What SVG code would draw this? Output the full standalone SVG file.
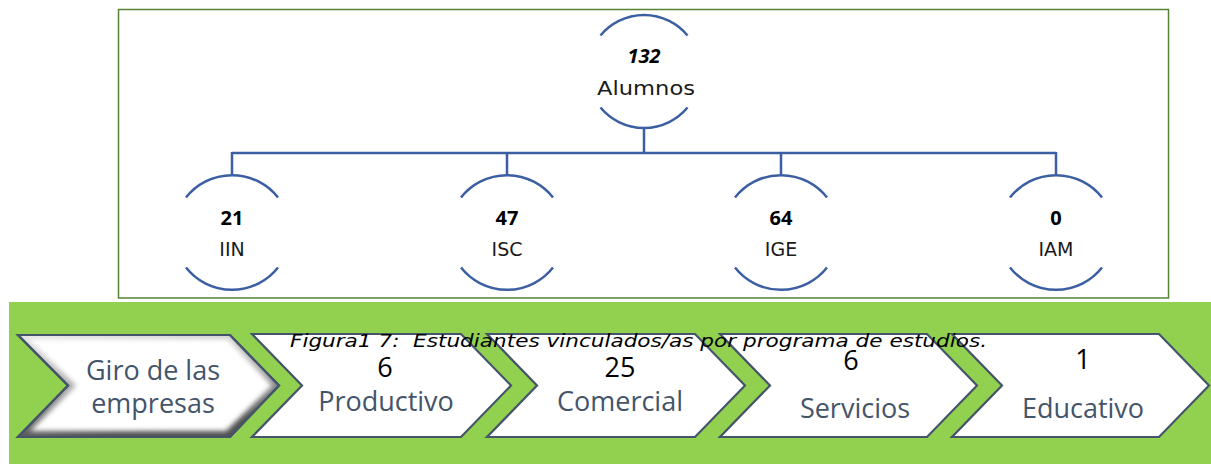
<svg xmlns="http://www.w3.org/2000/svg" width="1211" height="464" viewBox="0 0 1211 464">
<style>
.arc{fill:none;stroke:#3B5FA2;stroke-width:2.5}
.con{fill:none;stroke:#3B5FA2;stroke-width:2.5}
.num{font-family:"Noto Sans","DejaVu Sans",sans-serif;font-weight:bold;font-size:20px;fill:#000;text-anchor:middle}
.lbl{font-family:"DejaVu Sans","Noto Sans",sans-serif;font-size:19px;fill:#1a1a1a;text-anchor:middle}
.chev{fill:#fff;stroke:#44546A;stroke-width:2.2}
.cnum{font-family:"Open Sans","Noto Sans",sans-serif;font-size:27px;fill:#000;text-anchor:middle}
.ctxt{font-family:"Open Sans","Noto Sans",sans-serif;font-size:27px;fill:#44546A;text-anchor:middle}
</style>
<defs>
<linearGradient id="bev" x1="0" y1="0" x2="0.25" y2="1">
<stop offset="0" stop-color="#e6e6e6"/>
<stop offset="0.55" stop-color="#a8a8a8"/>
<stop offset="1" stop-color="#505050"/>
</linearGradient>
<filter id="blur" x="-10%" y="-10%" width="120%" height="120%"><feGaussianBlur stdDeviation="2.5"/></filter>
</defs>
<rect x="0" y="0" width="1211" height="464" fill="#fff"/>
<rect x="118.5" y="9.5" width="1050" height="288.5" fill="none" stroke="#548235" stroke-width="1.5"/>
<rect x="9" y="302" width="1202" height="162" fill="#92D050"/>

<g id="connectors">
<path class="con" d="M644 128 V153 M232 153 H1056 M232 152 V174 M507 152 V174 M781 152 V174 M1056 152 V174"/>
</g>

<g id="node-alumnos">
<path class="arc" d="M600.5 35.5 A56.5 56.5 0 0 1 687.5 35.5"/>
<path class="arc" d="M600.5 107.5 A56.5 56.5 0 0 0 687.5 107.5"/>
<text class="num" x="644" y="63" font-style="italic">132</text>
<text class="lbl" x="646" y="95" textLength="98" lengthAdjust="spacingAndGlyphs">Alumnos</text>
</g>

<g id="node-iin">
<path class="arc" d="M186 197.5 A58.5 58.5 0 0 1 278 197.5"/>
<path class="arc" d="M186 267.5 A58.5 58.5 0 0 0 278 267.5"/>
<text class="num" x="232" y="225">21</text>
<text class="lbl" x="232" y="256">IIN</text>
</g>
<g id="node-isc">
<path class="arc" d="M461 197.5 A58.5 58.5 0 0 1 553 197.5"/>
<path class="arc" d="M461 267.5 A58.5 58.5 0 0 0 553 267.5"/>
<text class="num" x="507" y="225">47</text>
<text class="lbl" x="507" y="256">ISC</text>
</g>
<g id="node-ige">
<path class="arc" d="M735 197.5 A58.5 58.5 0 0 1 827 197.5"/>
<path class="arc" d="M735 267.5 A58.5 58.5 0 0 0 827 267.5"/>
<text class="num" x="781" y="225">64</text>
<text class="lbl" x="781" y="256">IGE</text>
</g>
<g id="node-iam">
<path class="arc" d="M1010 197.5 A58.5 58.5 0 0 1 1102 197.5"/>
<path class="arc" d="M1010 267.5 A58.5 58.5 0 0 0 1102 267.5"/>
<text class="num" x="1056" y="225">0</text>
<text class="lbl" x="1056" y="256">IAM</text>
</g>

<g id="chevron-giro">
<polygon points="18,335 230,335 279,385.5 230,437 18,437 68,385.5" fill="url(#bev)" stroke="#44546A" stroke-width="2.2"/>
<polygon points="28,339 228,339 272,385.5 226,431 30,431 76,385.5" fill="#fff" filter="url(#blur)"/>
<polygon points="18,335 230,335 279,385.5 230,437 18,437 68,385.5" fill="none" stroke="#44546A" stroke-width="2.2"/>
<text class="ctxt" x="153" y="380">Giro de las</text>
<text class="ctxt" x="153" y="413">empresas</text>
</g>
<g id="chevron-productivo">
<polygon class="chev" points="252,334 461,334 511,385.5 461,437 252,437 302,385.5"/>
<text class="cnum" x="385" y="377">6</text>
<text class="ctxt" x="386" y="411">Productivo</text>
</g>
<g id="chevron-comercial">
<polygon class="chev" points="487,334 695,334 745,385.5 695,437 487,437 537,385.5"/>
<text class="cnum" x="620" y="377">25</text>
<text class="ctxt" x="620" y="411">Comercial</text>
</g>
<g id="chevron-servicios">
<polygon class="chev" points="720,334 927,334 977,385.5 927,437 720,437 770,385.5"/>
<text class="cnum" x="851" y="370">6</text>
<text class="ctxt" x="855" y="418">Servicios</text>
</g>
<g id="chevron-educativo">
<polygon class="chev" points="952,334 1159,334 1209,385.5 1159,437 952,437 1002,385.5"/>
<text class="cnum" x="1083" y="369">1</text>
<text class="ctxt" x="1083" y="418">Educativo</text>
</g>

<text x="290" y="347" font-family="'DejaVu Sans','Noto Sans',sans-serif" font-style="italic" font-size="18" fill="#000" textLength="697" lengthAdjust="spacingAndGlyphs" xml:space="preserve">Figura1 7:  Estudiantes vinculados/as por programa de estudios.</text>
</svg>
